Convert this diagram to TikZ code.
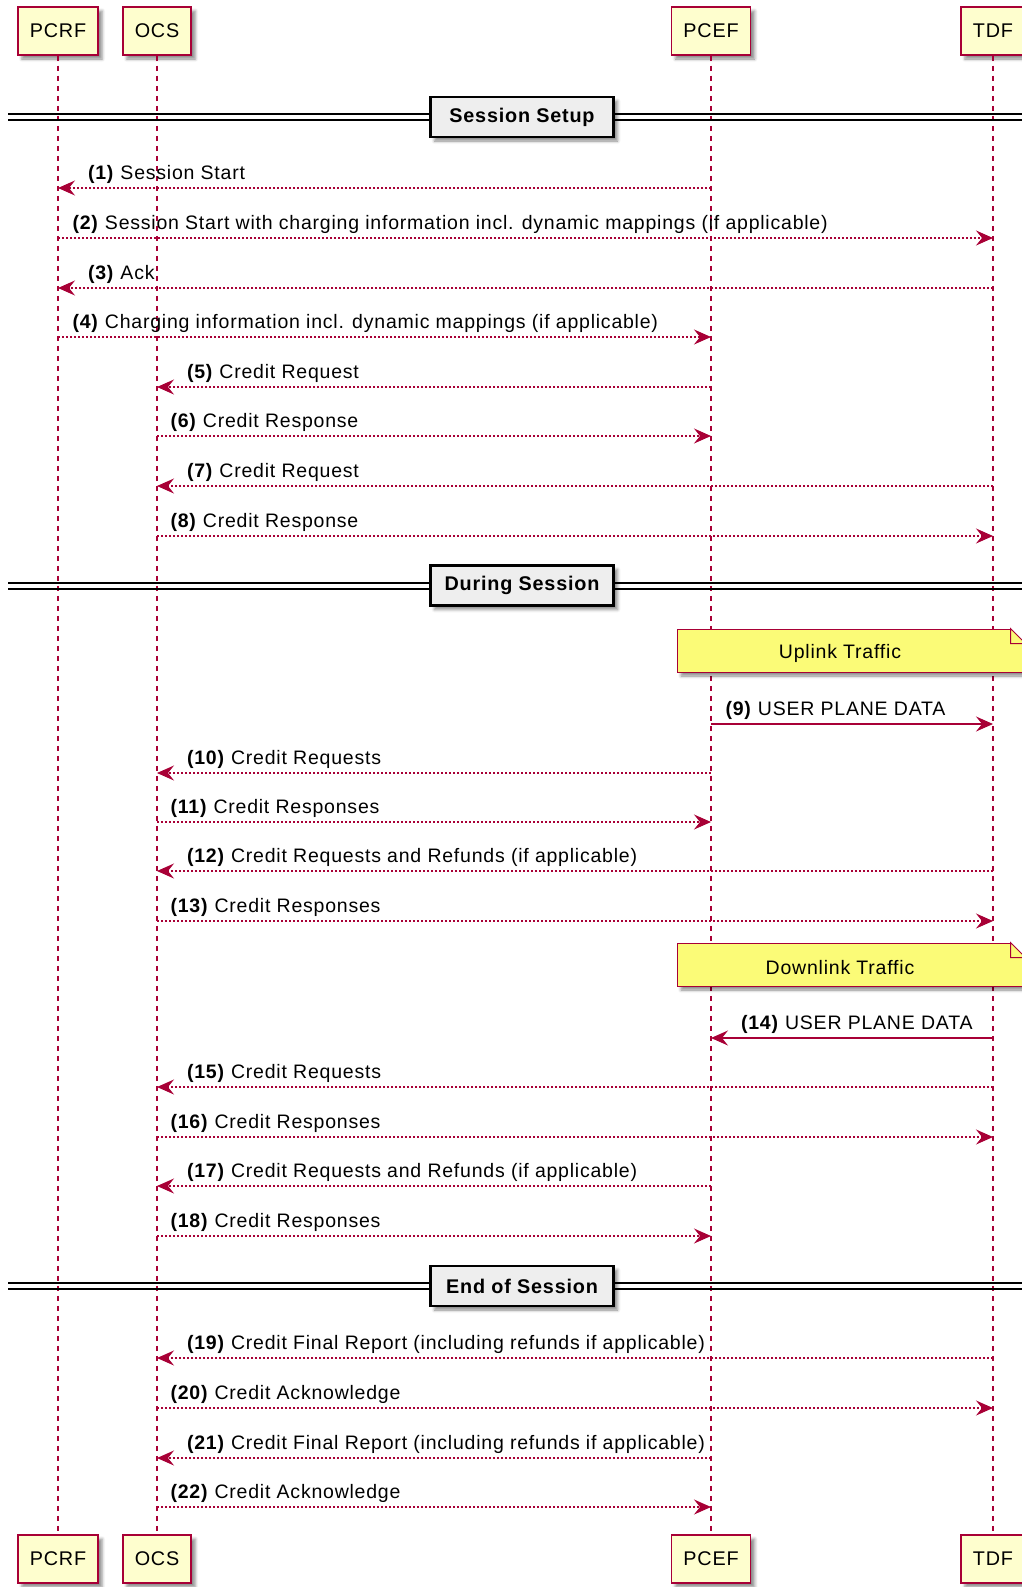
\documentclass[tikz,border=0pt]{standalone}
\usepackage{fontspec}
\setmainfont[LetterSpace=4]{Liberation Sans}
\usepackage{tikz}
\usetikzlibrary{arrows.meta,positioning,shadows.blur}
\definecolor{plantred}{HTML}{A80036}
\definecolor{partfill}{HTML}{FEFECE}
\definecolor{notefill}{HTML}{FBFB77}
\definecolor{divfill}{HTML}{EEEEEE}
\newcommand{\msgfont}{\fontsize{19.5}{23}\selectfont}
\tikzstyle{part} = [draw=plantred, fill=partfill, line width=1.5pt, inner xsep=12pt,
    minimum height=48pt, font=\fontsize{19.8}{23}\selectfont,
    blur shadow={shadow xshift=4pt, shadow yshift=-4pt, shadow blur radius=3pt, shadow opacity=45}]
\tikzstyle{lifeline} = [draw=plantred, line width=1.2pt, dash pattern=on 5pt off 5pt]
\tikzstyle{msg} = [draw=plantred, line width=1.2pt, dash pattern=on 2pt off 2pt,
    -{Stealth[length=17pt,width=15pt,inset=6pt]}]
\tikzstyle{datamsg} = [msg, solid]
\tikzstyle{lbl} = [font=\msgfont, inner sep=0pt, anchor=base west, yshift=8.5pt]
\tikzstyle{divbox} = [draw=black, fill=divfill, line width=2.5pt, minimum width=183pt,
    minimum height=40pt, font=\bfseries\fontsize{19.8}{23}\selectfont,
    blur shadow={shadow xshift=4pt, shadow yshift=-4pt, shadow blur radius=3pt, shadow opacity=45}]
\tikzstyle{divline} = [draw=black, line width=1.5pt]
\tikzstyle{note} = [draw=plantred, fill=notefill, line width=1pt, minimum width=348pt,
    minimum height=43pt, inner sep=0pt,
    blur shadow={shadow xshift=4pt, shadow yshift=-4pt, shadow blur radius=3pt, shadow opacity=45}]

\begin{document}
\begin{tikzpicture}[x=1pt, y=-1pt, node distance=99pt]
  \useasboundingbox (0,0) rectangle (1021,1587);
  % participants
  \node [part] (pcrf) at (58,31) {PCRF};
  \node [part, right of=pcrf, node distance=99pt] (ocs) {OCS};
  \node [part, right of=ocs, node distance=554pt] (pcef) {PCEF};
  \node [part, right of=pcef, node distance=282pt] (tdf) {TDF};
  \node [part, below of=pcrf, node distance=1528pt] (pcrf2) {PCRF};
  \node [part, below of=ocs, node distance=1528pt] (ocs2) {OCS};
  \node [part, below of=pcef, node distance=1528pt] (pcef2) {PCEF};
  \node [part, below of=tdf, node distance=1528pt] (tdf2) {TDF};
  \draw [lifeline] (pcrf) -- (pcrf2);
  \draw [lifeline] (ocs) -- (ocs2);
  \draw [lifeline] (pcef) -- (pcef2);
  \draw [lifeline] (tdf) -- (tdf2);

  % Session Setup
  \draw [divline] (8,114) -- (1030,114);
  \draw [divline] (8,120) -- (1030,120);
  \node [divbox] (setup) at (522,117) {Session Setup};
  \draw [msg] (pcef |- 0,188) -- (pcrf |- 0,188) node [lbl, at end, xshift=29.5pt] {\textbf{(1)} Session Start};
  \draw [msg] (pcrf |- 0,238) -- (tdf |- 0,238) node [lbl, at start, xshift=14pt] {\textbf{(2)} Session Start with charging information incl. dynamic mappings (if applicable)};
  \draw [msg] (tdf |- 0,288) -- (pcrf |- 0,288) node [lbl, at end, xshift=29.5pt] {\textbf{(3)} Ack};
  \draw [msg] (pcrf |- 0,337) -- (pcef |- 0,337) node [lbl, at start, xshift=14pt] {\textbf{(4)} Charging information incl. dynamic mappings (if applicable)};
  \draw [msg] (pcef |- 0,387) -- (ocs |- 0,387) node [lbl, at end, xshift=29.5pt] {\textbf{(5)} Credit Request};
  \draw [msg] (ocs |- 0,436) -- (pcef |- 0,436) node [lbl, at start, xshift=13pt] {\textbf{(6)} Credit Response};
  \draw [msg] (tdf |- 0,486) -- (ocs |- 0,486) node [lbl, at end, xshift=29.5pt] {\textbf{(7)} Credit Request};
  \draw [msg] (ocs |- 0,536) -- (tdf |- 0,536) node [lbl, at start, xshift=13pt] {\textbf{(8)} Credit Response};

  % During Session
  \draw [divline] (8,583) -- (1030,583);
  \draw [divline] (8,589) -- (1030,589);
  \node [divbox] (during) at (522,585.5) {During Session};
  \node [note, label={[font=\msgfont, xshift=-11pt, yshift=-3pt]center:Uplink Traffic}] (upnote) at (851,650.5) {};
  \fill [white] ([xshift=-15pt]upnote.north east) -- (upnote.north east) -- ([yshift=-15pt]upnote.north east) -- cycle;
  \draw [plantred, line width=1pt] ([xshift=-15pt]upnote.north east) -- ([yshift=-15pt]upnote.north east)
    -- ([xshift=-15pt,yshift=-15pt]upnote.north east) -- cycle;
  \draw [datamsg] (pcef |- 0,724) -- (tdf |- 0,724) node [lbl, at start, xshift=14pt] {\textbf{(9)} USER PLANE DATA};
  \draw [msg] (pcef |- 0,773) -- (ocs |- 0,773) node [lbl, at end, xshift=29.5pt] {\textbf{(10)} Credit Requests};
  \draw [msg] (ocs |- 0,822) -- (pcef |- 0,822) node [lbl, at start, xshift=13pt] {\textbf{(11)} Credit Responses};
  \draw [msg] (tdf |- 0,871) -- (ocs |- 0,871) node [lbl, at end, xshift=29.5pt] {\textbf{(12)} Credit Requests and Refunds (if applicable)};
  \draw [msg] (ocs |- 0,921) -- (tdf |- 0,921) node [lbl, at start, xshift=13pt] {\textbf{(13)} Credit Responses};
  \node [note, label={[font=\msgfont, xshift=-11pt, yshift=-3pt]center:Downlink Traffic}] (downnote) at (851,964.5) {};
  \fill [white] ([xshift=-15pt]downnote.north east) -- (downnote.north east) -- ([yshift=-15pt]downnote.north east) -- cycle;
  \draw [plantred, line width=1pt] ([xshift=-15pt]downnote.north east) -- ([yshift=-15pt]downnote.north east)
    -- ([xshift=-15pt,yshift=-15pt]downnote.north east) -- cycle;
  \draw [datamsg] (tdf |- 0,1038) -- (pcef |- 0,1038) node [lbl, at end, xshift=29.5pt] {\textbf{(14)} USER PLANE DATA};
  \draw [msg] (tdf |- 0,1087) -- (ocs |- 0,1087) node [lbl, at end, xshift=29.5pt] {\textbf{(15)} Credit Requests};
  \draw [msg] (ocs |- 0,1137) -- (tdf |- 0,1137) node [lbl, at start, xshift=13pt] {\textbf{(16)} Credit Responses};
  \draw [msg] (pcef |- 0,1186) -- (ocs |- 0,1186) node [lbl, at end, xshift=29.5pt] {\textbf{(17)} Credit Requests and Refunds (if applicable)};
  \draw [msg] (ocs |- 0,1236) -- (pcef |- 0,1236) node [lbl, at start, xshift=13pt] {\textbf{(18)} Credit Responses};

  % End of Session
  \draw [divline] (8,1283) -- (1030,1283);
  \draw [divline] (8,1289) -- (1030,1289);
  \node [divbox] (ending) at (522,1286) {End of Session};
  \draw [msg] (tdf |- 0,1358) -- (ocs |- 0,1358) node [lbl, at end, xshift=29.5pt] {\textbf{(19)} Credit Final Report (including refunds if applicable)};
  \draw [msg] (ocs |- 0,1408) -- (tdf |- 0,1408) node [lbl, at start, xshift=13pt] {\textbf{(20)} Credit Acknowledge};
  \draw [msg] (pcef |- 0,1458) -- (ocs |- 0,1458) node [lbl, at end, xshift=29.5pt] {\textbf{(21)} Credit Final Report (including refunds if applicable)};
  \draw [msg] (ocs |- 0,1507) -- (pcef |- 0,1507) node [lbl, at start, xshift=13pt] {\textbf{(22)} Credit Acknowledge};
\end{tikzpicture}
\end{document}
